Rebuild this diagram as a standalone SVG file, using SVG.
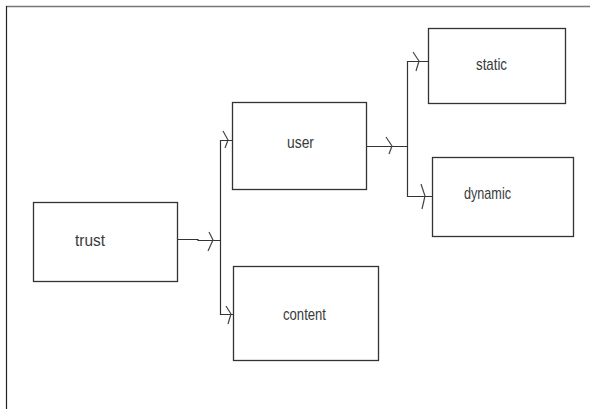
<svg xmlns="http://www.w3.org/2000/svg" width="590" height="409" viewBox="0 0 590 409">
  <style>
    .box { fill: #fff; stroke: #333; stroke-width: 1.3; }
    .lbl { font-family: "Liberation Sans", Arial, sans-serif; font-size: 17px; fill: #3a3a3a; }
    .wire { fill: none; stroke: #333; stroke-width: 1.2; }
    .head { fill: none; stroke: #444; stroke-width: 1.2; }
  </style>
  <rect width="590" height="409" fill="#fff"/>
  <!-- page frame -->
  <path d="M6 6.5 H590" stroke="#777" stroke-width="1.5" fill="none"/>
  <path d="M6.5 6 V409" stroke="#222" stroke-width="1.2" fill="none"/>

  <!-- labels use a condensed look: fixed advance widths -->
  <g id="trust">
    <rect class="box" x="33.5" y="202.5" width="144" height="79"/>
    <text class="lbl" x="75" y="246" textLength="30" lengthAdjust="spacingAndGlyphs">trust</text>
  </g>
  <g id="user">
    <rect class="box" x="232.5" y="102.5" width="134" height="87"/>
    <text class="lbl" x="287" y="148" textLength="27" lengthAdjust="spacingAndGlyphs">user</text>
  </g>
  <g id="content">
    <rect class="box" x="233.5" y="266.5" width="145" height="94"/>
    <text class="lbl" x="283" y="320" textLength="43" lengthAdjust="spacingAndGlyphs">content</text>
  </g>
  <g id="static">
    <rect class="box" x="428.5" y="28.5" width="137" height="75"/>
    <text class="lbl" x="476" y="70" textLength="31" lengthAdjust="spacingAndGlyphs">static</text>
  </g>
  <g id="dynamic">
    <rect class="box" x="432.5" y="157.5" width="141" height="79"/>
    <text class="lbl" x="464" y="199" textLength="47" lengthAdjust="spacingAndGlyphs">dynamic</text>
  </g>

  <g id="connectors">
    <!-- trust to user / content -->
    <path class="wire" d="M177 239.5 H198 V240.5 H220"/>
    <path class="wire" d="M220.5 240 V140.5 H232"/>
    <path class="wire" d="M220.5 240 V314.5 H233"/>
    <path class="head" d="M209 232 L213 240 L208 251"/>
    <path class="head" d="M223 131 L228 140 L225 148"/>
    <path class="head" d="M226 306 L231 314 L228 324"/>
    <!-- user to static / dynamic -->
    <path class="wire" d="M366 146.5 H408"/>
    <path class="wire" d="M407.5 146 V61.5 H428"/>
    <path class="wire" d="M407.5 146 V196.5 H432"/>
    <path class="head" d="M386 137 L392 146 L389 154"/>
    <path class="head" d="M413 52 L419 61 L416 71"/>
    <path class="head" d="M421 184 L425 196 L422 209"/>
  </g>
</svg>
